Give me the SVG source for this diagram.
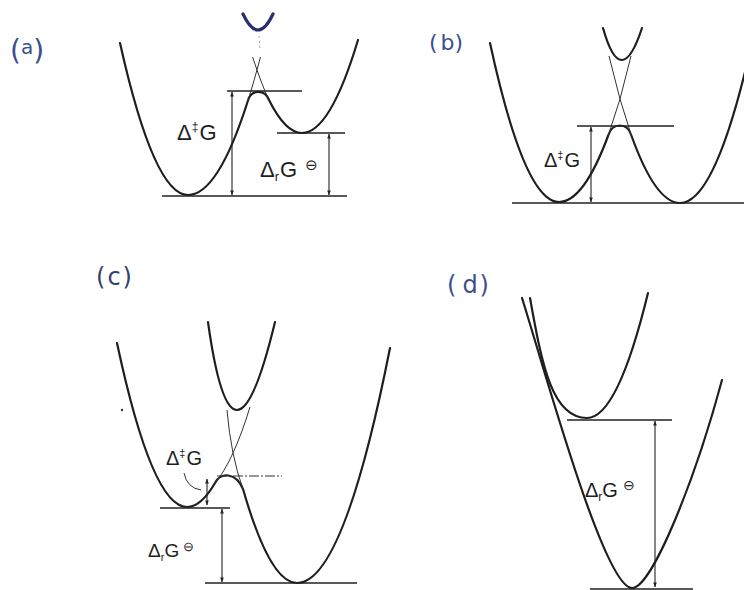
<svg xmlns="http://www.w3.org/2000/svg" width="744" height="590" viewBox="0 0 744 590">
<defs>
<marker id="ah" viewBox="0 0 6 6" refX="5.5" refY="3" markerWidth="5" markerHeight="5" orient="auto-start-reverse" markerUnits="userSpaceOnUse">
<path d="M0,0.8 L6,3 L0,5.2 Z" fill="#222"/>
</marker>
<style>
.thick{fill:none;stroke:#1e1e1e;stroke-width:2.2;stroke-linecap:round;stroke-linejoin:round}
.thin{fill:none;stroke:#333;stroke-width:1}
.lvl{fill:none;stroke:#222;stroke-width:1.3}
.arr{fill:none;stroke:#222;stroke-width:1.1;marker-start:url(#ah);marker-end:url(#ah)}
.lab{font-family:"Liberation Sans",Arial,sans-serif;fill:#1e1e1e}
.hand{font-family:"DejaVu Sans","Liberation Sans",sans-serif;fill:#3b4f8f}
</style>
</defs>
<rect width="744" height="590" fill="#ffffff"/>

<!-- Panel (a) -->
<g id="panel-a">
<text class="hand" x="10" y="60" font-size="28">(<tspan font-size="20" dy="-6">a</tspan><tspan dy="6">)</tspan></text>
<path class="thick" d="M120,43 Q154,195 188,195 Q218,195 248,100.5 C251,89 265,89 269,100 Q285.5,133 302,133 Q330,133 358,40"/>
<path class="thin" d="M248,100.5 Q254.2,80.9 260.5,57"/>
<path class="thin" d="M269,100 Q261.8,85.2 252.6,57"/>
<path d="M243,14 Q258,46 273,14" fill="none" stroke="#2a2f6b" stroke-width="3.2" stroke-linecap="round"/>
<path d="M259,36 L260,50" fill="none" stroke="#9aa0c0" stroke-width="1" stroke-dasharray="2 3"/>
<line class="lvl" x1="227" y1="91" x2="302" y2="91"/>
<line class="lvl" x1="277" y1="133" x2="345" y2="133"/>
<line class="lvl" x1="162" y1="196" x2="347" y2="196"/>
<text class="lab" x="177" y="140" font-size="22">Δ<tspan font-size="12" dy="-9">‡</tspan><tspan dy="9" dx="1">G</tspan></text>
<text class="lab" x="260" y="177" font-size="22">Δ<tspan font-size="13" dy="4">r</tspan><tspan dy="-4" dx="1">G</tspan><tspan font-size="15" dy="-7" dx="8">⊖</tspan></text>
</g>

<!-- Panel (b) -->
<g id="panel-b">
<text class="hand" x="429" y="50" font-size="22">(<tspan dx="3">b</tspan>)</text>
<path class="thick" d="M490,43 Q524.5,202 559,202 Q583.7,202 608.4,135 C612,122.3 627.6,122.3 631.2,135 Q655.6,203 680,203 Q712.5,203 745,72"/>
<path class="thick" d="M603,28 Q621,92 642,28" stroke-width="1.9"/>
<path class="thin" d="M608.4,135 L620,99 L631,56"/>
<path class="thin" d="M631.2,135 L620,99 L609,56"/>
<line class="lvl" x1="577" y1="126" x2="674" y2="126"/>
<line class="lvl" x1="512" y1="203" x2="744" y2="203"/>
<text class="lab" x="544" y="167" font-size="20">Δ<tspan font-size="11" dy="-8">‡</tspan><tspan dy="8" dx="1">G</tspan></text>
</g>

<!-- Panel (c) -->
<g id="panel-c">
<text class="hand" x="96" y="285" font-size="24" style="fill:#33406b">(<tspan dx="2">c</tspan><tspan dx="2">)</tspan></text>
<path class="thick" d="M117,343 Q152,507 187,507 Q201,507 215,483 C220,472 236,472 243,489 Q270,583 297,583 Q343.5,583 390,348"/>
<path class="thick" d="M208,322 Q232.5,498 275,322" stroke-width="1.9"/>
<path class="thin" d="M215,483 Q233.5,461 250,407"/>
<path class="thin" d="M243,489 Q231,456.5 227,410"/>
<circle cx="122" cy="410" r="1.2" fill="#333"/>
<line x1="217" y1="476" x2="282" y2="476" stroke="#333" stroke-width="1.1" stroke-dasharray="10 2 2 2"/>
<line class="lvl" x1="160" y1="508" x2="230" y2="508"/>
<line class="lvl" x1="205" y1="583" x2="357" y2="583"/>
<path d="M184,473 Q187,488 201,490" fill="none" stroke="#333" stroke-width="1"/>
<text class="lab" x="166" y="465" font-size="20">Δ<tspan font-size="11" dy="-8">‡</tspan><tspan dy="8" dx="1">G</tspan></text>
<text class="lab" x="148" y="557" font-size="19">Δ<tspan font-size="11" dy="4">r</tspan><tspan dy="-4">G</tspan><tspan font-size="13" dy="-6" dx="4">⊖</tspan></text>
</g>

<!-- Panel (d) -->
<g id="panel-d">
<text class="hand" x="447" y="293" font-size="24">(<tspan dx="6">d</tspan><tspan dx="2">)</tspan></text>
<path class="thick" d="M522,298 C544.8,370 604,588 632,588 C652,588 695,480 722,380"/>
<path class="thick" d="M530,298 C542,365 552,418 587,418 Q617.5,418 648,293" stroke-width="1.9"/>
<line class="lvl" x1="567" y1="420" x2="672" y2="420"/>
<line class="lvl" x1="590" y1="589" x2="693" y2="589"/>
<text class="lab" x="585" y="497" font-size="20">Δ<tspan font-size="12" dy="4">r</tspan><tspan dy="-4">G</tspan><tspan font-size="14" dy="-7" dx="5">⊖</tspan></text>
</g>

<!-- Connectors: energy-difference arrows -->
<g id="connectors">
<line class="arr" x1="232" y1="92" x2="232" y2="195"/>
<line class="arr" x1="329" y1="134" x2="329" y2="195"/>
<line class="arr" x1="591" y1="127" x2="591" y2="202"/>
<line class="arr" x1="207" y1="479" x2="207" y2="505"/>
<line class="arr" x1="222" y1="509" x2="222" y2="582"/>
<line class="arr" x1="655" y1="421" x2="655" y2="587"/>
</g>
</svg>
